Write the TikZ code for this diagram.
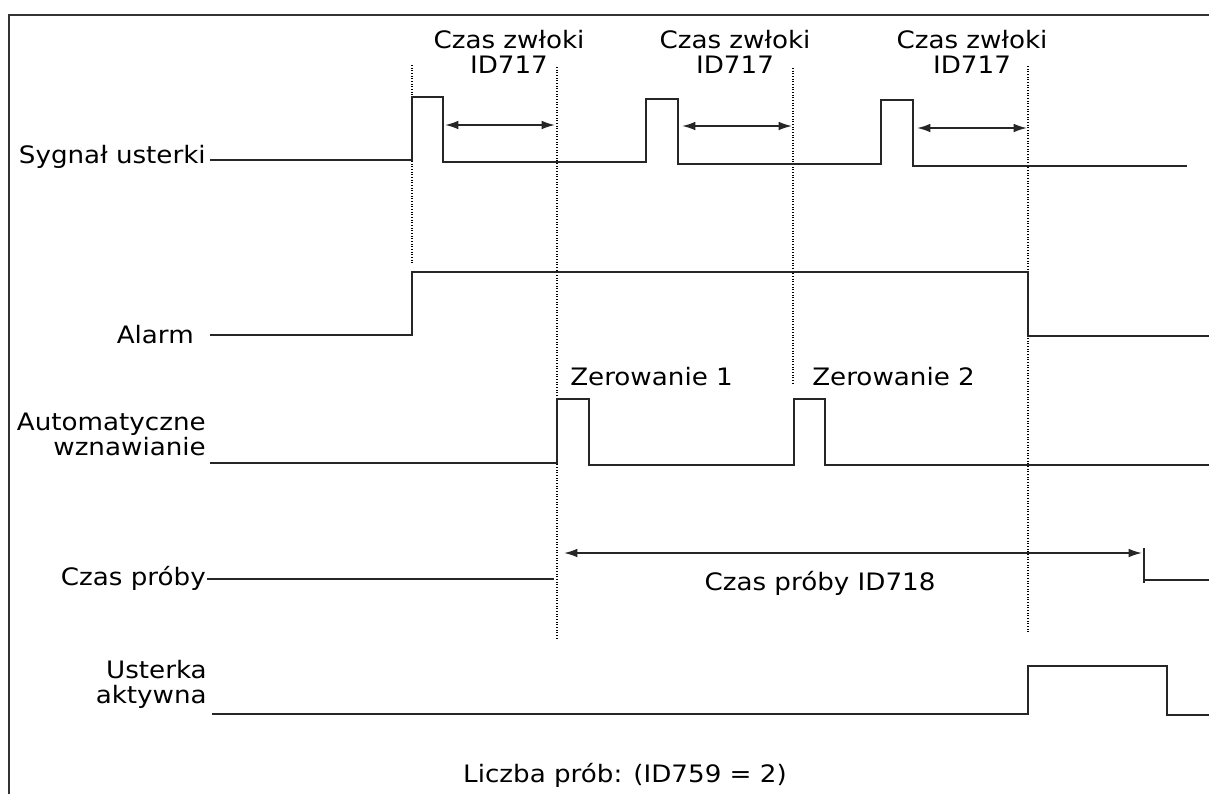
\documentclass[tikz,border=0pt]{standalone}
\usepackage{fontspec}
\setmainfont{DejaVu Sans}[FakeStretch=1.09]
\usetikzlibrary{arrows.meta}
\begin{document}
\begin{tikzpicture}[x=0.75pt, y=-0.75pt, line join=miter, >={Latex[length=10pt,width=6.5pt]},
	font=\fontsize{18}{18.75}\selectfont,
	sig/.style={line width=1.3pt, black!85},
	dots/.style={line width=0.8pt, dash pattern=on 0.8pt off 1.2pt},
	lab/.style={inner sep=0pt, align=right}]
				\useasboundingbox (0,0) rectangle (1209,794);
				
				% frame
				\draw[line width=1pt, black!80] (9,794) -- (9,15) -- (1209,15);
				
				\def\xa{412}
				\def\xb{557}
				\def\xc{793}
				\def\xd{1028}
				
				% dotted markers
				\draw[dots] (\xa,65) -- (\xa,264);
				\draw[dots] (\xb,67) -- (\xb,640);
				\draw[dots] (\xc,68) -- (\xc,385);
				\draw[dots] (\xd,66) -- (\xd,633);
				
				% labels
				\node[lab, anchor=base east] (sygnal) at (206,163) {Sygnał usterki};
				\node[lab, anchor=base east] (alarm) at (194,343) {Alarm};
				\node[lab, anchor=base east] (auto) at (206,455) {Automatyczne\\wznawianie};
				\node[lab, anchor=base east] (proba) at (206,585) {Czas próby};
				\node[lab, anchor=base east] (aktywna) at (207,703) {Usterka\\aktywna};
				
				\node[align=center, inner sep=0pt] (zw1) at (509,52) {Czas zwłoki\\ID717};
				\node[align=center, inner sep=0pt] (zw2) at (735,52) {Czas zwłoki\\ID717};
				\node[align=center, inner sep=0pt] (zw3) at (972,52) {Czas zwłoki\\ID717};
				
				\node[inner sep=0pt, anchor=base west] (zer1) at (570,385) {Zerowanie 1};
				\node[inner sep=0pt, anchor=base west] (zer2) at (812,385) {Zerowanie 2};
				\node[inner sep=0pt] (id718) at (820,583) {Czas próby ID718};
				\node[inner sep=0pt, anchor=base] (liczba) at (625,782) {Liczba prób: (ID759 = 2)};
				
				% signals
				\draw[sig] (210,160) -- (\xa,160) -- (\xa,97) -- (443,97) -- (443,162) -- (646,162) -- (646,99) -- (678,99) -- (678,164) -- (881,164) -- (881,100) -- (913,100) -- (913,166) -- (1187,166);
				\draw[sig] (210,335) -- (\xa,335) -- (\xa,272) -- (\xd,272) -- (\xd,336) -- (1209,336);
				\draw[sig] (210,463) -- (\xb,463) -- (\xb,399) -- (589,399) -- (589,465) -- (794,465) -- (794,399) -- (825,399) -- (825,465) -- (1209,465);
				\draw[sig] (207,579) -- (554,579);
				\draw[sig] (1144,548) -- (1144,583);
				\draw[sig] (1144,580) -- (1209,580);
				\draw[sig] (212,714) -- (\xd,714) -- (\xd,666) -- (1167,666) -- (1167,715) -- (1209,715);
				
				% durations
				\draw[sig, <->] (445,125) -- (555,125);
				\draw[sig, <->] (682,126) -- (792,126);
				\draw[sig, <->] (917,128) -- (1027,128);
				\draw[sig, <->] (564,553) -- (1142,553);
				
			\end{tikzpicture}
\end{document}
